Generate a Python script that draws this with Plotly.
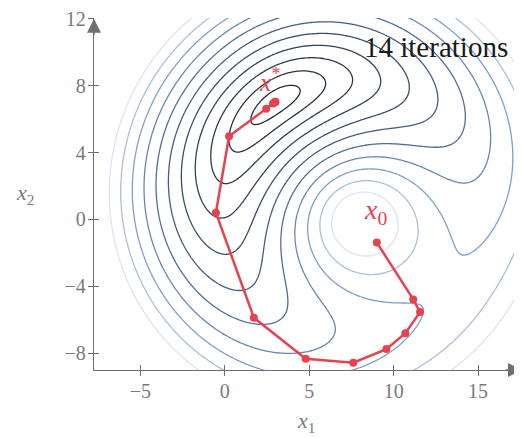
import numpy as np
import plotly.graph_objects as go

# ---- optimizer path ----
path_x1 = [9.00, 11.16, 11.56, 10.69, 9.57, 7.61, 4.79, 1.72, -0.53, 0.25, 2.45, 2.85, 2.95, 2.98, 3.00]
path_x2 = [-1.38, -4.78, -5.54, -6.80, -7.75, -8.56, -8.33, -5.88, 0.40, 4.97, 6.62, 6.93, 7.00, 7.02, 7.03]

# ---- axis ticks ----
x_ticks = [-5, 0, 5, 10, 15]
y_ticks = [-8, -4, 0, 4, 8, 12]
x_range = [-7.75, 17.6]
y_range = [-9.0, 12.04]

# ---- landscape: ring-shaped valley around a central peak ----
ring_center = (8.0, 0.0)
ring_radius = 8.6
theta_star_deg = 125.0   # direction of the deepest point (x*)
ridge_theta_deg = -35.0  # direction where the valley is shallowest
ridge_height = 39.0
level_step = 0.64
n_levels = 11

gx = np.linspace(-8.5, 18.5, 271)
gy = np.linspace(-10.0, 13.0, 231)
X, Y = np.meshgrid(gx, gy)
dX, dY = X - ring_center[0], Y - ring_center[1]
R = np.hypot(dX, dY)
TH = np.degrees(np.arctan2(dY, dX))
span_cw = theta_star_deg - ridge_theta_deg
span_ccw = 360.0 - span_cw
PSI = ((TH - theta_star_deg + span_cw) % 360.0) - span_cw
T = np.where(PSI < 0, np.pi * PSI / span_cw, np.pi * PSI / span_ccw)
D = ridge_height * (1 - np.cos(T)) / 2
F = (R - ring_radius) ** 2 + D * R / ring_radius
G = np.sqrt(np.clip(F, 0, None))

axis_gray = "#6f6f6f"
text_gray = "#7a7a7a"
red = "#e4434f"

fig = go.Figure()
fig.add_trace(go.Contour(
    x=gx, y=gy, z=G,
    contours=dict(coloring="lines", start=level_step, end=level_step * n_levels + 0.01, size=level_step),
    zauto=False, zmin=level_step, zmax=level_step * n_levels,
    colorscale=[[0.0, "#232c38"], [0.35, "#34465e"], [0.6, "#4f6f98"],
                [0.8, "#7f9fca"], [0.92, "#b3c6e0"], [1.0, "#dfe3ec"]],
    line=dict(width=1.3, smoothing=1.0),
    showscale=False, hoverinfo="skip",
))
fig.add_trace(go.Scatter(
    x=path_x1, y=path_x2, mode="lines+markers",
    line=dict(color=red, width=2.5),
    marker=dict(color=red, size=8),
    hoverinfo="skip", showlegend=False,
))
# invisible trace carrying the overlay axes (inner half of crossing ticks)
fig.add_trace(go.Scatter(x=[0], y=[0], xaxis="x2", yaxis="y2", mode="markers",
                         marker=dict(opacity=0), hoverinfo="skip", showlegend=False))

tickfont = dict(family="Liberation Serif", size=20, color=text_gray)
fig.update_layout(
    width=514, height=430,
    margin=dict(l=86, r=0, t=6, b=68),
    paper_bgcolor="white", plot_bgcolor="white",
    showlegend=False,
    xaxis=dict(range=x_range, tickvals=x_ticks, showgrid=False, zeroline=False,
               showline=True, linecolor=axis_gray, linewidth=1.3,
               ticks="outside", ticklen=5, tickwidth=1.2, tickcolor=axis_gray,
               ticklabelstandoff=-2, ticklabeloverflow="allow", tickfont=tickfont),
    yaxis=dict(range=y_range, tickvals=y_ticks, showgrid=False, zeroline=False,
               showline=True, linecolor=axis_gray, linewidth=1.3,
               ticks="outside", ticklen=5, tickwidth=1.2, tickcolor=axis_gray,
               ticklabelstandoff=-2, ticklabeloverflow="allow", tickfont=tickfont),
    xaxis2=dict(range=x_range, tickvals=x_ticks, overlaying="x", anchor="y", showgrid=False,
                zeroline=False, showline=False, ticks="inside", ticklen=5, tickwidth=1.2,
                tickcolor=axis_gray, showticklabels=False),
    yaxis2=dict(range=y_range, tickvals=y_ticks, overlaying="y", anchor="x", showgrid=False,
                zeroline=False, showline=False, ticks="inside", ticklen=5, tickwidth=1.2,
                tickcolor=axis_gray, showticklabels=False),
)

annots = [
    # axis arrows
    dict(x=x_range[1], y=y_range[0], xref="x", yref="y", ax=-18, ay=0, text="",
         showarrow=True, arrowhead=2, arrowsize=2.0, arrowwidth=1.4, arrowcolor=axis_gray),
    dict(x=x_range[0], y=12.0, xref="x", yref="y", ax=0, ay=18, text="",
         showarrow=True, arrowhead=2, arrowsize=2.0, arrowwidth=1.4, arrowcolor=axis_gray),
    # axis titles
    dict(x=4.8, y=0, xref="x", yref="paper", yshift=-68, text="<i>x</i><sub>1</sub>",
         showarrow=False, font=dict(family="Liberation Serif", size=22, color=text_gray)),
    dict(x=0, y=1.5, xref="paper", yref="y", xshift=-80, text="<i>x</i><sub>2</sub>",
         showarrow=False, font=dict(family="Liberation Serif", size=22, color=text_gray)),
    # labels
    dict(x=2.7, y=8.3, xref="x", yref="y", text="<i>x</i><sup>*</sup>", showarrow=False,
         font=dict(family="Liberation Serif", size=26, color=red)),
    dict(x=8.9, y=0.45, xref="x", yref="y", text="<i>x</i><sub>0</sub>", showarrow=False,
         font=dict(family="Liberation Serif", size=28, color=red)),
    dict(x=1.0, y=0.9185, xref="paper", yref="paper", xanchor="right", yanchor="middle",
         xshift=-12, text="14 iterations", showarrow=False,
         font=dict(family="Liberation Serif", size=29, color="#1a1a1a")),
]
fig.update_layout(annotations=annots)

fig.write_html("out.html")
